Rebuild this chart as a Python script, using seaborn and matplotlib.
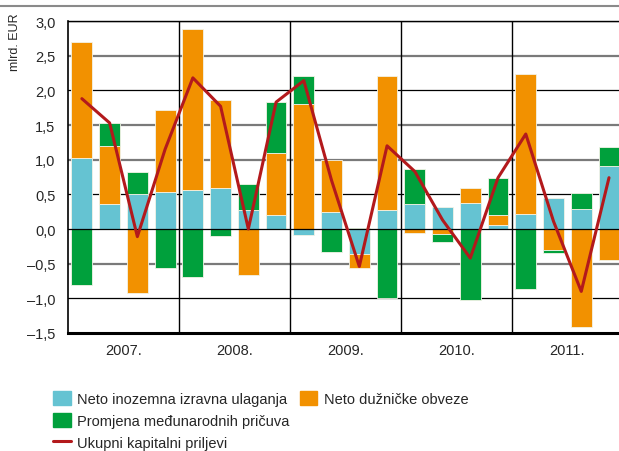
import matplotlib
matplotlib.use("Agg")
import matplotlib.pyplot as plt
import numpy as np
import pandas as pd
import seaborn as sns
from matplotlib.lines import Line2D
from matplotlib.patches import Patch

# quarterly data 2007-2011, mlrd. EUR
years = ["2007.", "2008.", "2009.", "2010.", "2011."]
quarters = [f"{y}Q{q}" for y in years for q in range(1, 5)]

fdi = [1.02, 0.36, 0.51, 0.53, 0.56, 0.59, 0.27, 0.20, -0.08, 0.24,
       -0.36, 0.27, 0.36, 0.32, 0.37, 0.06, 0.22, 0.45, 0.29, 0.91]
debt = [1.67, 0.83, -0.93, 1.18, 2.32, 1.27, -0.66, 0.89, 1.80, 0.75,
        -0.20, 1.93, -0.06, -0.07, 0.22, 0.14, 2.01, -0.31, -1.42, -0.45]
reserves = [-0.81, 0.34, 0.31, -0.56, -0.69, -0.10, 0.38, 0.74, 0.41, -0.33,
            0.02, -1.00, 0.51, -0.12, -1.02, 0.54, -0.87, -0.03, 0.23, 0.27]
total = [1.88, 1.53, -0.11, 1.15, 2.18, 1.77, 0.00, 1.83, 2.14, 0.70,
         -0.54, 1.20, 0.83, 0.13, -0.42, 0.74, 1.37, 0.11, -0.90, 0.74]

labels = ["Neto inozemna izravna ulaganja", "Neto dužničke obveze",
          "Promjena međunarodnih pričuva", "Ukupni kapitalni priljevi"]
colors = ["#65C3D2", "#F29100", "#00A03C", "#B3191C"]

sns.set_style("white")
plt.rcParams["font.family"] = ["Liberation Sans", "DejaVu Sans"]

fig = plt.figure(figsize=(6.19, 4.52), dpi=100)
ax = fig.add_axes([68 / 619, 1 - 334 / 452, 551 / 619, 312 / 452])

pos = np.arange(len(quarters))
df = pd.DataFrame({"x": pos, "fdi": fdi, "debt": debt, "res": reserves, "total": total})

# stack positives up and negatives down, in order fdi -> debt -> reserves
up = np.zeros(len(pos))
down = np.zeros(len(pos))
for col, c in zip(["fdi", "debt", "res"], colors[:3]):
    vals = df[col].to_numpy()
    bottom = np.where(vals >= 0, up, down)
    sns.barplot(data=df, x="x", y=col, native_scale=True, width=0.75,
                bottom=bottom, color=c, saturation=1, edgecolor="#f3f3e6",
                linewidth=0.6, ax=ax, zorder=2)
    up = up + np.clip(vals, 0, None)
    down = down + np.clip(vals, None, 0)

sns.lineplot(data=df, x="x", y="total", color=colors[3], lw=2.2, ax=ax, zorder=4)

# grid, alternating grey / black as in the original
for yv in np.arange(-1.0, 3.01, 0.5):
    if yv in (2.5, 1.5, 1.0, -0.5):
        ax.axhline(yv, color="#7a7a7a", lw=1.6, zorder=1)
    else:
        ax.axhline(yv, color="black", lw=0.9, zorder=1 if yv != 0 else 3)
for xv in [3.5, 7.5, 11.5, 15.5]:
    ax.axvline(xv, color="black", lw=1.0, zorder=1)

ax.set_xlim(-0.5, 19.36)
ax.set_ylim(-1.5, 3.0)
ax.set_yticks(np.arange(-1.5, 3.01, 0.5))
ax.set_yticklabels([f"{v:.1f}".replace(".", ",").replace("-", "–") for v in np.arange(-1.5, 3.01, 0.5)])
ax.set_xticks([1.5, 5.5, 9.5, 13.5, 17.5])
ax.set_xticklabels(years)
ax.tick_params(length=0, labelsize=10.5, pad=9)
ax.tick_params(axis="x", pad=7)
ax.set_xlabel("")
ax.set_ylabel("")
for s in ["top", "right"]:
    ax.spines[s].set_visible(False)
ax.spines["left"].set_color("black")
ax.spines["left"].set_linewidth(1.2)
ax.spines["bottom"].set_color("black")
ax.spines["bottom"].set_linewidth(2.2)
ax.axhline(3.0, color="black", lw=1.0, zorder=1, clip_on=False)

fig.text(15 / 619, 1 - 13 / 452, "mlrd. EUR", rotation=90, ha="center", va="top", fontsize=9)
fig.add_artist(Line2D([0, 1], [1 - 7 / 452, 1 - 7 / 452], color="#8a8a8a", lw=1.5))

blank = Patch(color="none")
handles = [Patch(color=colors[0]), Patch(color=colors[2]),
           Line2D([], [], color=colors[3], lw=2.2),
           Patch(color=colors[1]), blank, blank]
leg_labels = [labels[0], labels[2], labels[3], labels[1], "", ""]
fig.legend(handles, leg_labels, ncol=2, loc="upper left",
           bbox_to_anchor=(53 / 619, 1 - 392 / 452), frameon=False,
           fontsize=10.5, handlelength=1.2, handleheight=1.1, handletextpad=0.45,
           labelspacing=0.5, columnspacing=0.7, borderaxespad=0, borderpad=0)

fig.savefig("out.png", dpi=100)
